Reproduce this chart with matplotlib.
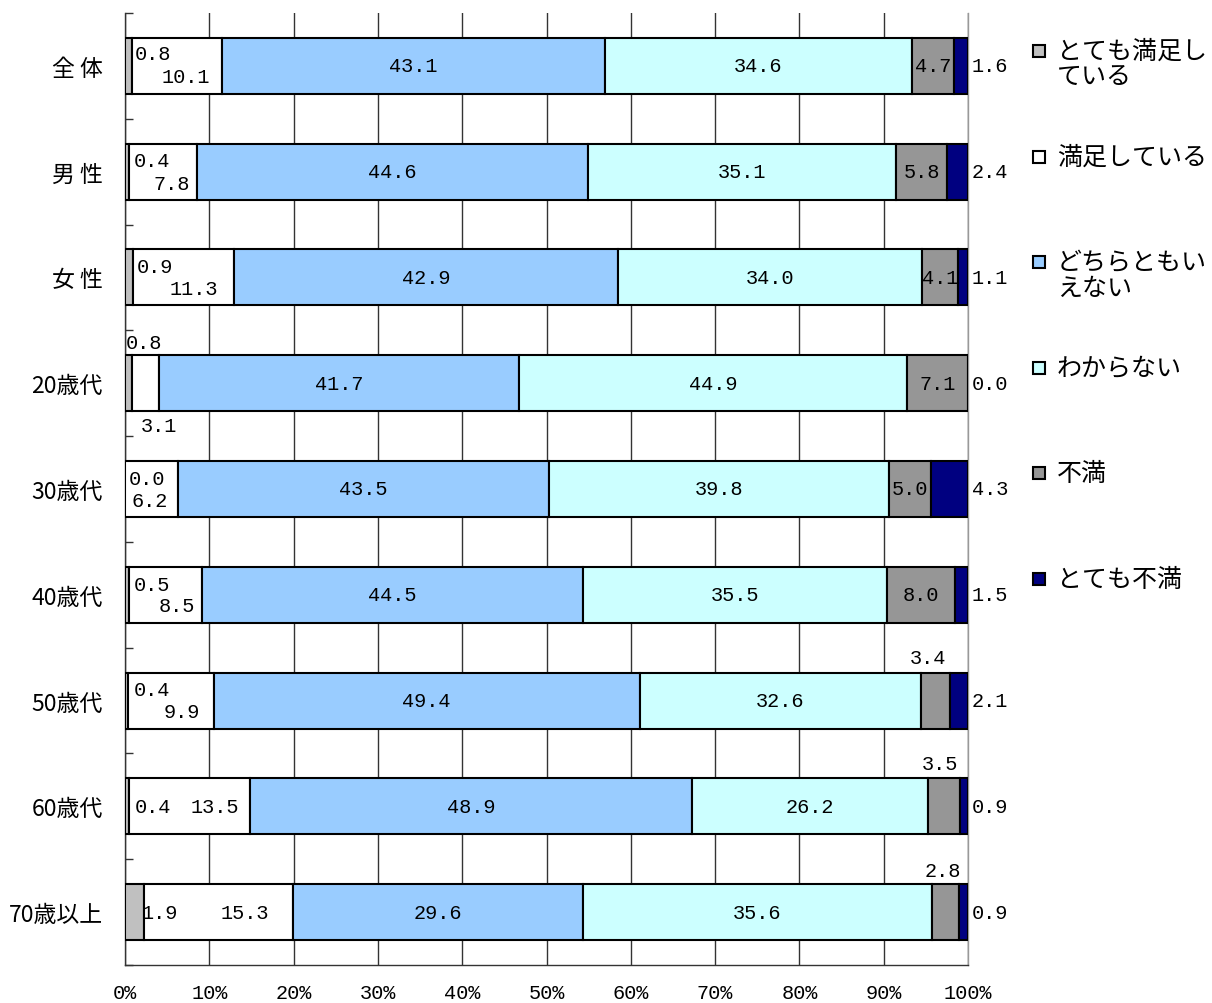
import numpy as np
import matplotlib
matplotlib.use("Agg")
import matplotlib.pyplot as plt
from matplotlib.patches import Rectangle

plt.rcParams['font.family'] = ['Noto Sans CJK JP', 'DejaVu Sans']

# 回答区分と属性
groups = ["全 体", "男 性", "女 性", "20歳代", "30歳代", "40歳代", "50歳代", "60歳代", "70歳以上"]
series_names = ["とても満足し\nている", "満足している", "どちらともい\nえない", "わからない", "不満", "とても不満"]

very_satisfied = [0.8, 0.4, 0.9, 0.8, 0.0, 0.5, 0.4, 0.4, 1.9]
satisfied      = [10.1, 7.8, 11.3, 3.1, 6.2, 8.5, 9.9, 13.5, 15.3]
neutral        = [43.1, 44.6, 42.9, 41.7, 43.5, 44.5, 49.4, 48.9, 29.6]
unknown        = [34.6, 35.1, 34.0, 44.9, 39.8, 35.5, 32.6, 26.2, 35.6]
dissatisfied   = [4.7, 5.8, 4.1, 7.1, 5.0, 8.0, 3.4, 3.5, 2.8]
very_dissat    = [1.6, 2.4, 1.1, 0.0, 4.3, 1.5, 2.1, 0.9, 0.9]

colors = ['#c0c0c0', '#ffffff', '#99ccff', '#ccffff', '#969696', '#000080']

# 小さい区間のラベル位置（区間中心からのピクセル移動量, 上向き正）
label_offsets = {
    (0, 0): (24, 12), (0, 1): (9, -11),
    (1, 0): (25, 11), (1, 1): (9, -12),
    (2, 0): (26, 11), (2, 1): (10, -11),
    (3, 0): (15, 41), (3, 1): (14, -42),
    (4, 0): (22, 10), (4, 1): (-2, -12),
    (5, 0): (25, 10), (5, 1): (11, -11),
    (6, 0): (25, 11), (6, 1): (11, -11), (6, 4): (-7, 43),
    (7, 0): (26, 0), (7, 1): (25, 0), (7, 4): (-4, 43),
    (8, 0): (25, 0), (8, 1): (26, 0), (8, 4): (-3, 42),
}

W, H = 1212, 1004
fig = plt.figure(figsize=(W / 100, H / 100), dpi=100)
ax = fig.add_axes([125 / W, 1 - 966 / H, 843 / W, 952 / H])

data = np.array([very_satisfied, satisfied, neutral, unknown, dissatisfied, very_dissat])
pct = data / data.sum(axis=0) * 100  # 各行を100%に揃える
y = np.arange(len(groups))
num_font = dict(family='Liberation Mono', fontsize=14.6, color='black')

left = np.zeros(len(groups))
for s in range(len(series_names)):
    ax.barh(y, pct[s], left=left, height=0.53, color=colors[s],
            edgecolor='black', linewidth=1.5, zorder=3)
    for r in range(len(groups)):
        txt = f"{data[s, r]:.1f}"
        if s == len(series_names) - 1:
            ax.annotate(txt, xy=(100, y[r]), xytext=(4, 0), textcoords='offset pixels',
                        ha='left', va='center', zorder=5, **num_font)
            continue
        cx = left[r] + pct[s, r] / 2
        dx, dy = label_offsets.get((r, s), (0, 0))
        ax.annotate(txt, xy=(cx, y[r]), xytext=(dx, dy), textcoords='offset pixels',
                    ha='center', va='center', zorder=5, **num_font)
    left += pct[s]

ax.set_xlim(0, 100)
ax.set_ylim(len(groups) - 0.5, -0.5)
ax.set_xticks(np.arange(0, 101, 10))
ax.set_xticklabels([f"{v}%" for v in range(0, 101, 10)], **num_font)
ax.tick_params(axis='x', length=0, pad=13)
ax.set_yticks(y)
ax.set_yticklabels(groups, fontsize=16.5)
ax.tick_params(axis='y', which='major', length=0, pad=16)
ax.set_yticks(np.arange(-0.5, len(groups)), minor=True)
ax.tick_params(axis='y', which='minor', direction='in', length=6, width=1.0, color='#333333')

ax.grid(axis='x', color='#333333', linewidth=1.0, zorder=0)
ax.set_axisbelow(True)
ax.spines['top'].set_visible(False)
ax.spines['right'].set_color('#999999')
ax.spines['left'].set_color('#333333')
ax.spines['bottom'].set_color('#333333')
for sp in ('left', 'bottom', 'right'):
    ax.spines[sp].set_linewidth(1.0)

# 凡例（項目ごとに等間隔で配置）
step = 105.6
for i, (name, c) in enumerate(zip(series_names, colors)):
    yc = 52 + step * i
    fig.patches.append(Rectangle(((1033) / W, 1 - (yc + 6) / H), 12 / W, 12 / H,
                                 transform=fig.transFigure, facecolor=c,
                                 edgecolor='black', linewidth=1.5))
    fig.text(1057 / W, 1 - (yc - 13) / H, name, fontsize=18, ha='left', va='top',
             linespacing=1.0)

fig.savefig("out.png", dpi=100)
